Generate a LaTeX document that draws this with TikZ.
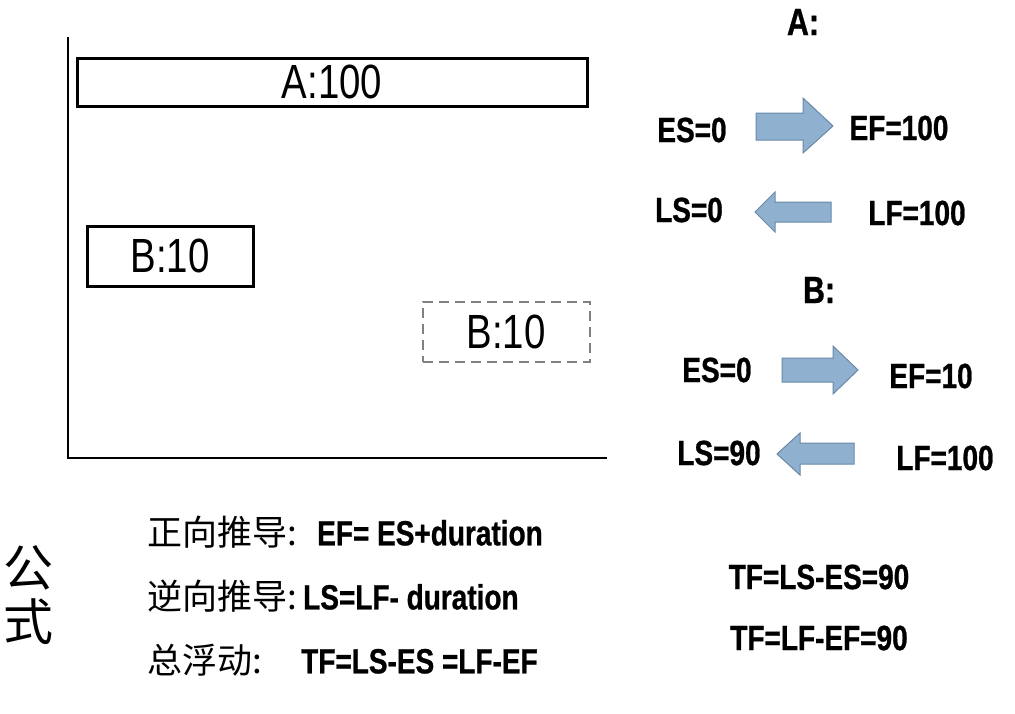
\documentclass[tikz,border=0pt]{standalone}
\usepackage{fontspec}
\setmainfont{Liberation Sans}[FakeStretch=0.8]
\newfontfamily\lbl{Liberation Sans}[FakeStretch=0.8,BoldFeatures={FakeBold=0.8}]
\newfontfamily\cjk{Noto Sans CJK SC}
\definecolor{arrfill}{RGB}{143,176,206}
\definecolor{arrdraw}{RGB}{105,137,168}
\definecolor{dashgray}{RGB}{128,128,128}
\begin{document}
\begin{tikzpicture}[x=1pt,y=-1pt,
  bar/.style={draw=black,line width=3pt,inner sep=0pt,font=\fontsize{48}{48}\selectfont},
  ghost/.style={draw=dashgray,line width=2pt,dash pattern=on 10pt off 6pt,inner sep=0pt,font=\fontsize{48}{48}\selectfont},
  lab/.style={inner sep=0pt,font=\lbl\bfseries\fontsize{35}{35}\selectfont},
  head/.style={inner sep=0pt,font=\lbl\bfseries\fontsize{38}{38}\selectfont},
  formula/.style={inner sep=0pt,anchor=west,font=\lbl\bfseries\fontsize{35}{35}\selectfont},
  blockarrow/.style={fill=arrfill,draw=arrdraw,line width=1pt,line join=miter},
  axis/.style={draw=black,line width=2.5pt}]
\useasboundingbox (0,0) rectangle (1015,713);
% axes
\coordinate (top) at (68,37);
\coordinate (orig) at (68,458);
\coordinate (right) at (607,458);
\draw[axis] (top) -- (orig) -- (right);
% bars
\node[bar,minimum width=510pt,minimum height=48pt] (A) at (332,82) {A:100};
\node[bar,minimum width=166pt,minimum height=60pt] (B) at (170,256) {B:10};
\node[ghost,minimum width=167pt,minimum height=60pt] (Bs) at (506,332) {B:10};
% right side A
\node[head] (hA) at (803,22) {A:};
\node[lab] (aes) at (692,130) {ES=0};
\node[lab] (aef) at (899,128) {EF=100};
\node[lab] (als) at (689,210) {LS=0};
\node[lab] (alf) at (917,213) {LF=100};
\draw[blockarrow] (756,113) -- (803,113) -- (803,98) -- (833,126) -- (803,153) -- (803,140) -- (756,140) -- cycle;
\draw[blockarrow] (831,202) -- (775,202) -- (775,192) -- (755,212) -- (775,232) -- (775,222) -- (831,222) -- cycle;
% right side B
\node[head] (hB) at (819,290) {B:};
\node[lab] (bes) at (717,370) {ES=0};
\node[lab] (bef) at (931,376) {EF=10};
\node[lab] (bls) at (719,453) {LS=90};
\node[lab] (blf) at (945,458) {LF=100};
\draw[blockarrow] (782,358) -- (833,358) -- (833,346) -- (858,370) -- (833,394) -- (833,382) -- (782,382) -- cycle;
\draw[blockarrow] (854,443) -- (800,443) -- (800,433) -- (777,454) -- (800,475) -- (800,464) -- (854,464) -- cycle;
% totals
\node[lab] (tf1) at (819,577) {TF=LS-ES=90};
\node[lab] (tf2) at (819,638) {TF=LF-EF=90};
% formulas
\node[inner sep=0pt,align=center,font=\cjk\fontsize{50}{54}\selectfont] (gs) at (28,595) {公\\式};
\node[formula] (f1) at (147,532) {\makebox[170pt][l]{\cjk\mdseries 正向推导:}EF= ES+duration};
\node[formula] (f2) at (147,596) {\makebox[156pt][l]{\cjk\mdseries 逆向推导:}LS=LF- duration};
\node[formula] (f3) at (147,660) {\makebox[154pt][l]{\cjk\mdseries 总浮动:}TF=LS-ES =LF-EF};
\end{tikzpicture}
\end{document}
